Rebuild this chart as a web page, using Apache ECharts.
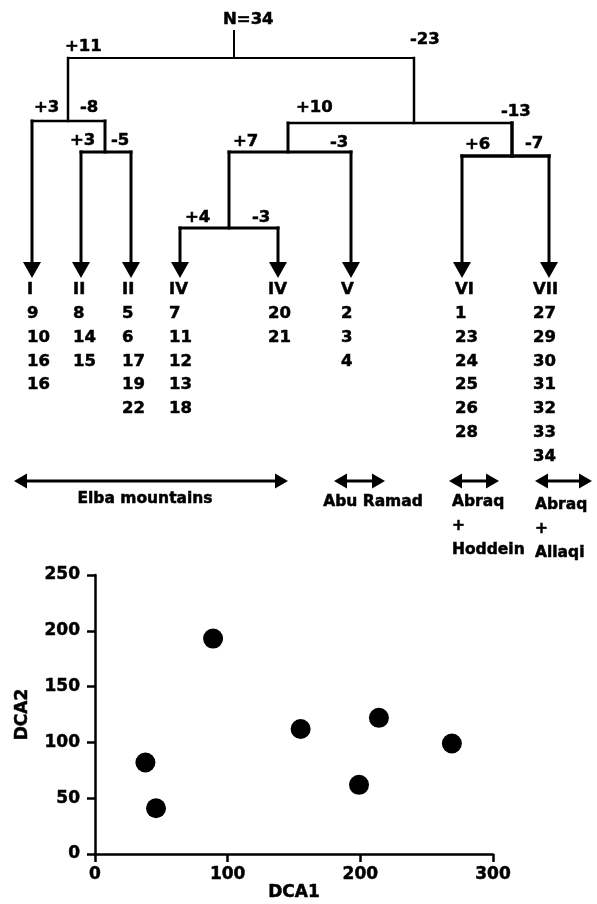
<!DOCTYPE html>
<html><head><meta charset="utf-8">
<script src="https://cdn.jsdelivr.net/npm/echarts@6/dist/echarts.min.js"></script>
<style>html,body{margin:0;padding:0;background:#fff}#c{width:597px;height:904px}</style>
</head><body><div id="c"></div>
<script>
// ---------------- Data ----------------
const rootLabel = 'N=34';
const splitLabels = [['+11','-23'],['+3','-8'],['+3','-5'],['+10','-13'],['+7','-3'],['+4','-3'],['+6','-7']];
const groupNames = ['I','II','II','IV','IV','V','VI','VII'];
const groupMembers = [[9,10,16,16],[8,14,15],[5,6,17,19,22],[7,11,12,13,18],[20,21],[2,3,4],[1,23,24,25,26,28],[27,29,30,31,32,33,34]];
const regionNames = ['Elba mountains','Abu Ramad','Abraq\n+\nHoddein','Abraq\n+\nAllaqi'];
const dca1 = [89, 38, 46, 155, 214, 269, 199];
const dca2 = [193, 82, 41, 112, 122, 99, 62];
const xTicks = [0, 100, 200, 300];
const yTicks = [0, 50, 100, 150, 200, 250];

// ---------------- Diagram layout (diagram units) ----------------
// split: [stemX, stemTopY, barY, leftX, rightX]
const splitGeom = [
  [234, 31, 58, 68, 414],
  [68, 58, 121, 32, 105],
  [105, 121, 152, 81, 131],
  [414, 58, 123, 288, 512],
  [288, 123, 152, 229, 351],
  [229, 152, 228, 180, 278],
  [512, 123, 156, 462, 549]
];
const splitWidth = [2, 2.5, 3, 2.5, 3, 3, 3.5];
const splitLabelPos = [
  [[65, 47], [410, 40]],
  [[34, 108], [80, 108]],
  [[70, 141], [111, 141]],
  [[296, 108], [501, 112]],
  [[233, 142], [330, 143]],
  [[185, 218], [252, 218]],
  [[465, 145], [525, 144]]
];
const rootLabelPos = [223, 20];
const leafGeom = [[32,121],[81,152],[131,152],[180,228],[278,228],[351,152],[462,156],[549,156]];
const leafTextX = [27, 73, 122, 169, 268, 341, 455, 533];
const arrowBaseY = 262, arrowTipY = 278, textTopY = 290, rowStep = 23.8;
// region: [x1, x2, textX, align, textTopY]
const regionGeom = [[14,288,145,'center',487],[334,385,373,'center',490],[449,499,452,'left',490],[535,592,535,'left',493]];
const regionArrowY = 481;

const FONT = {fontFamily: 'DejaVu Sans', fontWeight: 'bold', fontSize: 16.5, fill: '#000', stroke: '#000', lineWidth: 0.5};
function text(pt, s, align, va, extra) {
  return {type: 'text', style: Object.assign({x: pt[0], y: pt[1], text: s, align: align || 'left', verticalAlign: va || 'middle'}, FONT, extra || {})};
}
function seg(a, b, w) {
  return {type: 'line', shape: {x1: a[0], y1: a[1], x2: b[0], y2: b[1]}, style: {stroke: '#000', lineWidth: w, lineCap: 'square'}};
}
function poly(pts) {
  return {type: 'polygon', shape: {points: pts}, style: {fill: '#000'}};
}

const chart = echarts.init(document.getElementById('c'), null, {renderer: 'canvas'});
const labelFont = {color: '#000', fontFamily: 'DejaVu Sans', fontWeight: 'bold', fontSize: 17, textBorderColor: '#000', textBorderWidth: 0.5};
const axisStyle = {
  axisLine: {show: true, lineStyle: {color: '#000', width: 2.5}},
  axisTick: {show: true, length: 8, lineStyle: {color: '#000', width: 2.5}},
  splitLine: {show: false},
  nameTextStyle: labelFont
};

chart.setOption({
  animation: false,
  backgroundColor: '#fff',
  grid: [
    {left: 0, top: 0, width: 597, height: 904, containLabel: false},
    {left: 95, top: 575, width: 398, height: 279, containLabel: false}
  ],
  xAxis: [
    {gridIndex: 0, type: 'value', min: 0, max: 597, show: false},
    Object.assign({gridIndex: 1, type: 'value', min: xTicks[0], max: xTicks[xTicks.length-1], interval: 100,
      name: 'DCA1', nameLocation: 'middle', nameGap: 30}, axisStyle,
      {axisLabel: Object.assign({}, labelFont, {margin: 12})})
  ],
  yAxis: [
    {gridIndex: 0, type: 'value', min: 0, max: 904, inverse: true, show: false},
    Object.assign({gridIndex: 1, type: 'value', min: yTicks[0], max: yTicks[yTicks.length-1], interval: 50,
      name: 'DCA2', nameLocation: 'middle', nameGap: 64}, axisStyle,
      {axisLabel: Object.assign({}, labelFont, {margin: 15})})
  ],
  series: [
    {
      type: 'custom', xAxisIndex: 0, yAxisIndex: 0, silent: true,
      data: splitGeom.map(g => [g[0], g[2]]),
      renderItem: function (params, api) {
        const i = params.dataIndex, g = splitGeom[i], w = splitWidth[i];
        const c = (x, y) => api.coord([x, y]);
        const kids = [
          seg(c(g[0], g[1]), c(g[0], g[2]), w),
          seg(c(g[3], g[2]), c(g[4], g[2]), w),
          text(c(splitLabelPos[i][0][0], splitLabelPos[i][0][1]), splitLabels[i][0]),
          text(c(splitLabelPos[i][1][0], splitLabelPos[i][1][1]), splitLabels[i][1])
        ];
        if (i === 0) kids.push(text(c(rootLabelPos[0], rootLabelPos[1]), rootLabel));
        return {type: 'group', children: kids};
      }
    },
    {
      type: 'custom', xAxisIndex: 0, yAxisIndex: 0, silent: true,
      data: leafGeom.map(g => [g[0], g[1]]),
      renderItem: function (params, api) {
        const i = params.dataIndex, g = leafGeom[i];
        const c = (x, y) => api.coord([x, y]);
        const kids = [
          seg(c(g[0], g[1]), c(g[0], arrowBaseY), 3),
          poly([c(g[0] - 9, arrowBaseY), c(g[0] + 9, arrowBaseY), c(g[0], arrowTipY)]),
          text(c(leafTextX[i], textTopY), groupNames[i])
        ];
        groupMembers[i].forEach((m, k) => {
          kids.push(text(c(leafTextX[i], textTopY + rowStep * (k + 1)), String(m)));
        });
        return {type: 'group', children: kids};
      }
    },
    {
      type: 'custom', xAxisIndex: 0, yAxisIndex: 0, silent: true,
      data: regionGeom.map(g => [g[0], regionArrowY]),
      renderItem: function (params, api) {
        const i = params.dataIndex, g = regionGeom[i];
        const c = (x, y) => api.coord([x, y]);
        const y = regionArrowY;
        return {type: 'group', children: [
          seg(c(g[0] + 6, y), c(g[1] - 6, y), 3),
          poly([c(g[0], y), c(g[0] + 13, y - 7.5), c(g[0] + 13, y + 7.5)]),
          poly([c(g[1], y), c(g[1] - 13, y - 7.5), c(g[1] - 13, y + 7.5)]),
          text(c(g[2], g[4]), regionNames[i], g[3], 'top', {lineHeight: 24, fontSize: 15.5})
        ]};
      }
    },
    {
      type: 'scatter', xAxisIndex: 1, yAxisIndex: 1,
      symbol: 'circle', symbolSize: 20,
      itemStyle: {color: '#000', opacity: 1},
      data: dca1.map((x, i) => [x, dca2[i]])
    }
  ]
});
</script>
</body></html>
